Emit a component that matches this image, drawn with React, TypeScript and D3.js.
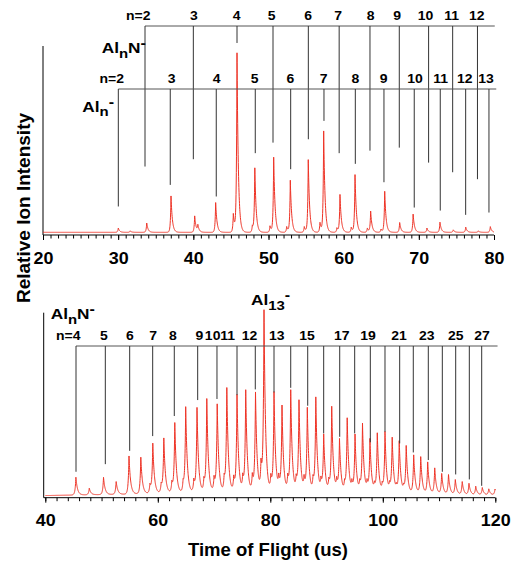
import React, { useEffect, useRef } from "react";
import * as d3 from "d3";

// Top panel: peaks of the 20-80 us trace, [time us, relative intensity]
const topPeaks: [number, number][] = [
  [30.02, 0.024], [31.6, 0.008], [33.8, 0.052], [37.03, 0.204], [40.18, 0.092], [40.6, 0.036],
  [42.97, 0.167], [45.32, 0.104], [45.81, 1.0], [47.85, 0.036], [48.18, 0.356], [50.2, 0.036],
  [50.69, 0.419], [52.42, 0.032], [52.9, 0.29], [54.76, 0.032], [55.29, 0.406], [56.85, 0.055],
  [57.34, 0.565], [59.1, 0.025], [59.51, 0.21], [61.01, 0.029], [61.51, 0.322], [63.15, 0.024],
  [63.59, 0.117], [64.97, 0.018], [65.46, 0.229], [67.45, 0.055], [69.24, 0.102], [71.08, 0.024],
  [72.81, 0.057], [74.58, 0.014], [76.24, 0.029], [77.91, 0.008], [79.51, 0.032],
];

// Top panel marker rows: Al_nN^- (upper) and Al_n^- (lower)
const topAlnN_n = [2, 3, 4, 5, 6, 7, 8, 9, 10, 11, 12];
const topAlnN_t = [33.57, 40.0, 45.81, 50.6, 55.3, 59.4, 63.5, 67.4, 71.3, 74.5, 77.8];
const topAlnN_label = [33.57, 40.06, 45.77, 50.42, 55.29, 59.28, 63.6, 67.1, 70.9, 74.37, 77.7];
const topAlnN_end = [0.369, 0.41, 1.062, 0.503, 0.522, 0.444, 0.458, 0.475, 0.391, 0.337, 0.298];

const topAln_n = [2, 3, 4, 5, 6, 7, 8, 9, 10, 11, 12, 13];
const topAln_t = [30.02, 36.93, 43.05, 48.24, 52.95, 57.38, 61.55, 65.36, 69.39, 72.85, 76.23, 79.33];
const topAln_label = [30.02, 37.12, 43.1, 48.15, 52.9, 57.34, 61.57, 65.32, 69.49, 72.91, 76.1, 78.93];
const topAln_end = [0.145, 0.266, 0.201, 0.444, 0.354, 0.625, 0.384, 0.281, 0.139, 0.122, 0.098, 0.111];

// Bottom panel: peaks of the 40-120 us trace
const botPeaks: [number, number][] = [
  [45.44, 0.1], [47.82, 0.037], [50.35, 0.097], [52.6, 0.072], [54.88, 0.215], [56.98, 0.206],
  [59.11, 0.275], [61.07, 0.301], [63.02, 0.386], [64.96, 0.472], [66.97, 0.469], [68.71, 0.515],
  [70.56, 0.485], [72.27, 0.572], [74.08, 0.538], [75.63, 0.561], [77.37, 0.549], [78.88, 1.0],
  [80.66, 0.551], [82.08, 0.476], [83.63, 0.561], [85.1, 0.504], [86.58, 0.465], [88.09, 0.521],
  [89.49, 0.313], [90.92, 0.472], [92.3, 0.289], [93.67, 0.408], [95.06, 0.319], [96.39, 0.379],
  [97.72, 0.294], [99.02, 0.328], [100.39, 0.336], [101.67, 0.303], [102.92, 0.287], [104.16, 0.26],
  [105.49, 0.215], [106.74, 0.206], [107.98, 0.177], [109.23, 0.145], [110.47, 0.115], [111.68, 0.11],
  [112.89, 0.083], [114.12, 0.073], [115.32, 0.064], [116.52, 0.048], [117.69, 0.041], [118.84, 0.034],
  [119.95, 0.033],
];
// small satellite peaks sitting in front of the main ones
const botSatellites: [number, number][] = [
  [58.6, 0.05], [60.6, 0.05], [62.5, 0.06], [64.5, 0.06], [66.4, 0.07], [68.2, 0.07], [70.0, 0.08],
  [71.8, 0.08], [73.5, 0.08], [75.1, 0.08], [76.8, 0.09], [78.35, 0.15], [80.1, 0.08], [81.5, 0.07],
  [83.1, 0.08], [84.6, 0.07], [86.0, 0.07], [87.6, 0.07], [89.0, 0.06], [90.4, 0.06], [91.8, 0.06],
  [93.2, 0.05], [94.5, 0.05], [95.9, 0.05], [97.2, 0.05], [98.5, 0.04], [99.9, 0.04], [101.2, 0.04],
  [102.4, 0.03], [103.7, 0.03],
];
const botBaseT = [40, 45, 55, 62, 70, 80, 90, 100, 108, 115, 120];
const botBaseV = [0.0, 0.003, 0.008, 0.015, 0.02, 0.022, 0.02, 0.016, 0.01, 0.004, 0.003];

const botAlnN_n = [4, 5, 6, 7, 8, 9, 10, 11, 12, 13, 14, 15, 16, 17, 18, 19, 20, 21, 22, 23, 24, 25, 26, 27];
const botAlnN_t = [45.46, 50.67, 55.0, 59.09, 62.93, 67.09, 70.52, 74.08, 77.33, 80.66, 83.63, 86.65,
  89.49, 92.34, 95.0, 97.78, 100.39, 103.0, 105.42, 108.09, 110.58, 112.96, 115.38, 117.58];
const botAlnN_end = [0.134, 0.177, 0.252, 0.335, 0.448, 0.538, 0.544, 0.566, 0.598, 0.581, 0.607, 0.506,
  0.35, 0.331, 0.35, 0.3, 0.359, 0.294, 0.243, 0.2, 0.134, 0.119, 0.091, 0.055];
const botLabel_n = [4, 5, 6, 7, 8, 9, 10, 11, 12, 13, 15, 17, 19, 21, 23, 25, 27];
const botLabel_t = [45.46, 50.4, 55.06, 59.15, 62.7, 67.4, 69.75, 72.4, 76.3, 81.14, 86.52, 92.7,
  97.37, 102.88, 107.8, 112.96, 117.64];

const FONT = "'Liberation Sans', Arial, Helvetica, sans-serif";
const RED = "#ee3326";
const MARK = "#333";

// sum of sharp, right-tailed peaks on top of a baseline
function trace(peaks: [number, number][], t0: number, t1: number, wl: number, wr: number,
  base: (t: number) => number): [number, number][] {
  const ts = d3.range(t0, t1, 0.02)
    .concat(peaks.map((p) => p[0]).filter((t) => t >= t0 && t <= t1), [t1])
    .sort((a, b) => a - b);
  return ts.map((t) => {
    let v = base(t);
    for (const [p, h] of peaks) {
      const d = t - p;
      v += h * Math.exp(-Math.abs(d) / (d < 0 ? wl : wr));
    }
    return [t, v] as [number, number];
  });
}

const App = () => {
  const ref = useRef<SVGSVGElement>(null);

  useEffect(() => {
    const svg = d3.select(ref.current);
    svg.selectAll("*").remove();
    svg.attr("font-family", FONT).attr("font-weight", "bold");

    const label = (x: number, y: number, s: string, size: number, anchor: string, sx: number) =>
      svg.append("text")
        .attr("transform", `translate(${x},${y}) scale(${sx},1)`)
        .attr("text-anchor", anchor)
        .attr("font-size", size)
        .text(s);

    const species = (x: number, y: number, sub: string, mid: string) => {
      const t = svg.append("text")
        .attr("transform", `translate(${x},${y}) scale(1.15,1)`)
        .attr("font-size", 15);
      t.append("tspan").text("Al");
      t.append("tspan").attr("font-size", 13).attr("dy", 4.5).text(sub);
      if (mid) t.append("tspan").attr("dy", -4.5).text(mid);
      t.append("tspan").attr("font-size", 14).attr("dy", mid ? -5 : -9.5).text("-");
    };

    const drawAxis = (x: d3.ScaleLinear<number, number>, yPos: number, x0: number,
      minor: number[], major: number[]) => {
      svg.append("line").attr("x1", x0).attr("x2", x.range()[1]).attr("y1", yPos).attr("y2", yPos)
        .attr("stroke", "#000");
      const gMin = svg.append("g").attr("transform", `translate(0,${yPos})`)
        .call(d3.axisBottom(x).tickValues(minor).tickSize(3.5).tickSizeOuter(0).tickFormat(() => ""));
      gMin.select(".domain").remove();
      const gMaj = svg.append("g").attr("transform", `translate(0,${yPos})`)
        .call(d3.axisBottom(x).tickValues(major).tickSize(5).tickSizeOuter(0).tickPadding(12)
          .tickFormat(d3.format("d")));
      gMaj.select(".domain").remove();
      gMaj.attr("font-family", FONT).attr("font-size", 16.3);
      gMaj.selectAll("text").attr("font-weight", "bold").attr("transform", "scale(1.1,1)");
    };

    // ---------- top panel ----------
    const xTop = d3.scaleLinear().domain([20, 80]).range([43, 494]);
    const yTop = d3.scaleLinear().domain([-0.015, 1.045]).range([235, 46]);
    svg.append("line").attr("x1", 43).attr("x2", 43).attr("y1", yTop(1.045)).attr("y2", yTop(-0.015))
      .attr("stroke", "#000");
    drawAxis(xTop, 235, 43, d3.range(20, 81, 1), d3.range(20, 81, 10));

    const topLine = d3.line<[number, number]>().x((d) => xTop(d[0])).y((d) => yTop(d[1]));
    svg.append("path")
      .attr("d", topLine(trace(topPeaks, 20, 80, 0.08, 0.18, () => 0)))
      .attr("fill", "none").attr("stroke", RED).attr("stroke-width", 1);

    const rowN = 26, rowA = 89;
    const nSize = 12.5, nSx = 1.12;
    svg.append("line").attr("x1", xTop(topAlnN_t[0])).attr("x2", xTop(80.1)).attr("y1", rowN).attr("y2", rowN)
      .attr("stroke", "#555");
    topAlnN_t.forEach((t, i) => {
      svg.append("line").attr("x1", xTop(t)).attr("x2", xTop(t)).attr("y1", rowN).attr("y2", yTop(topAlnN_end[i]))
        .attr("stroke", MARK);
      if (i === 0) label(xTop(topAlnN_label[i]) + 5.5, rowN - 6, `n=${topAlnN_n[i]}`, nSize, "end", nSx);
      else label(xTop(topAlnN_label[i]), rowN - 6, String(topAlnN_n[i]), nSize, "middle", nSx);
    });
    svg.append("line").attr("x1", xTop(topAln_t[0])).attr("x2", xTop(80.3)).attr("y1", rowA).attr("y2", rowA)
      .attr("stroke", "#555");
    topAln_t.forEach((t, i) => {
      svg.append("line").attr("x1", xTop(t)).attr("x2", xTop(t)).attr("y1", rowA).attr("y2", yTop(topAln_end[i]))
        .attr("stroke", MARK);
      if (i === 0) label(xTop(topAln_label[i]) + 5.7, rowA - 6.3, `n=${topAln_n[i]}`, nSize, "end", nSx);
      else label(xTop(topAln_label[i]), rowA - 6.3, String(topAln_n[i]), nSize, "middle", nSx);
    });
    species(101.7, 53, "n", "N");
    species(82.3, 111.7, "n", "");

    // ---------- bottom panel ----------
    const xBot = d3.scaleLinear().domain([40, 120]).range([45.3, 495.3]);
    const yBot = d3.scaleLinear().domain([-0.012, 1.03]).range([497.7, 312.7]);
    svg.append("line").attr("x1", 43.7).attr("x2", 43.7).attr("y1", yBot(1.03)).attr("y2", yBot(-0.012))
      .attr("stroke", "#000");
    drawAxis(xBot, 497.7, 43.7, d3.range(40, 121, 2), d3.range(40, 121, 20));

    const base = d3.scaleLinear().domain(botBaseT).range(botBaseV);
    const botLine = d3.line<[number, number]>().x((d) => xBot(d[0])).y((d) => yBot(d[1]));
    svg.append("path")
      .attr("d", botLine(trace(botPeaks.concat(botSatellites), 40, 120, 0.14, 0.28, (t) => base(t))))
      .attr("fill", "none").attr("stroke", RED).attr("stroke-width", 1);

    const rowB = 346;
    svg.append("line").attr("x1", xBot(botAlnN_t[0])).attr("x2", xBot(120.4)).attr("y1", rowB).attr("y2", rowB)
      .attr("stroke", "#555");
    botAlnN_t.forEach((t, i) => {
      svg.append("line").attr("x1", xBot(t)).attr("x2", xBot(t)).attr("y1", rowB).attr("y2", yBot(botAlnN_end[i]))
        .attr("stroke", MARK);
    });
    botLabel_t.forEach((t, i) => {
      if (i === 0) label(xBot(t) + 4.5, rowB - 6.5, `n=${botLabel_n[i]}`, nSize, "end", nSx);
      else label(xBot(t), rowB - 6.5, String(botLabel_n[i]), nSize, "middle", nSx);
    });
    species(50.7, 319.3, "n", "N");
    species(251, 305, "13", "");

    // ---------- axis titles ----------
    label(268, 556, "Time of Flight (us)", 18.5, "middle", 1);
    svg.append("text")
      .attr("transform", "translate(30,208) rotate(-90)")
      .attr("text-anchor", "middle")
      .attr("font-size", 19)
      .text("Relative Ion Intensity");
  }, []);

  return <svg ref={ref} width={514} height={561} style={{ position: "absolute", left: 0, top: 0 }} />;
};

export default App;
